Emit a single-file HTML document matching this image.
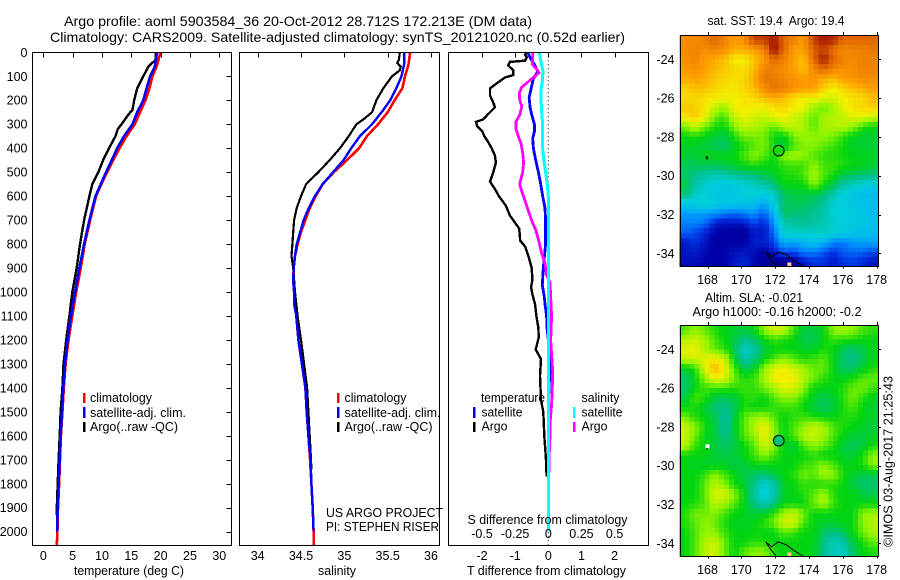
<!DOCTYPE html>
<html>
<head>
<meta charset="utf-8">
<title>Argo profile 5903584_36</title>
<style>
html,body{margin:0;padding:0;background:#fff;width:900px;height:580px;overflow:hidden}
svg{display:block;font-family:"Liberation Sans",sans-serif;font-size:12.5px;fill:#000}
text{fill:#000}
</style>
</head>
<body>
<svg id="chart" width="900" height="580" viewBox="0 0 900 580" xmlns="http://www.w3.org/2000/svg">
  <rect width="900" height="580" fill="#fff"/>
  <g id="maps"></g>
  <g id="plots"></g>
  <g id="axes"></g>

  <text x="64" y="26" font-size="14" textLength="468" lengthAdjust="spacingAndGlyphs">Argo profile: aoml 5903584_36 20-Oct-2012 28.712S 172.213E (DM data)</text>
  <text x="50" y="42" font-size="14" textLength="575" lengthAdjust="spacingAndGlyphs">Climatology: CARS2009. Satellite-adjusted climatology: synTS_20121020.nc (0.52d earlier)</text>

  <text x="74" y="575" textLength="110" lengthAdjust="spacingAndGlyphs">temperature (deg C)</text>
  <text x="318" y="575" textLength="38" lengthAdjust="spacingAndGlyphs">salinity</text>
  <text x="467.5" y="524" textLength="160" lengthAdjust="spacingAndGlyphs">S difference from climatology</text>
  <text x="467" y="575" textLength="159" lengthAdjust="spacingAndGlyphs">T difference from climatology</text>

  <g>
    <rect x="83" y="393" width="2.5" height="10" fill="#f00"/>
    <rect x="83" y="407" width="2.5" height="11" fill="#00f"/>
    <rect x="83" y="422" width="2.5" height="10" fill="#000"/>
    <text x="90" y="402" textLength="62" lengthAdjust="spacingAndGlyphs">climatology</text>
    <text x="90" y="417" textLength="96" lengthAdjust="spacingAndGlyphs">satellite-adj. clim.</text>
    <text x="90" y="431" textLength="88" lengthAdjust="spacingAndGlyphs">Argo(..raw -QC)</text>
  </g>
  <g>
    <rect x="337" y="393" width="2.5" height="10" fill="#f00"/>
    <rect x="337" y="407" width="2.5" height="11" fill="#00f"/>
    <rect x="337" y="422" width="2.5" height="10" fill="#000"/>
    <text x="344.5" y="402" textLength="62" lengthAdjust="spacingAndGlyphs">climatology</text>
    <text x="344.5" y="417" textLength="96" lengthAdjust="spacingAndGlyphs">satellite-adj. clim.</text>
    <text x="344.5" y="431" textLength="88" lengthAdjust="spacingAndGlyphs">Argo(..raw -QC)</text>
  </g>
  <text x="326" y="517" textLength="117" lengthAdjust="spacingAndGlyphs">US ARGO PROJECT</text>
  <text x="326" y="531" textLength="113" lengthAdjust="spacingAndGlyphs">PI: STEPHEN RISER</text>

  <g>
    <text x="481" y="402" textLength="64" lengthAdjust="spacingAndGlyphs">temperature</text>
    <rect x="473" y="407" width="2.5" height="11" fill="#00f"/>
    <text x="481.5" y="416.5" textLength="41" lengthAdjust="spacingAndGlyphs">satellite</text>
    <rect x="473" y="422" width="2.5" height="10" fill="#000"/>
    <text x="481.5" y="430.5" textLength="26" lengthAdjust="spacingAndGlyphs">Argo</text>
    <text x="581.5" y="402" textLength="38" lengthAdjust="spacingAndGlyphs">salinity</text>
    <rect x="573" y="407" width="2.5" height="11" fill="#0ff"/>
    <text x="581.5" y="416.5" textLength="41" lengthAdjust="spacingAndGlyphs">satellite</text>
    <rect x="573" y="422" width="2.5" height="10" fill="#f0f"/>
    <text x="581.5" y="430.5" textLength="26" lengthAdjust="spacingAndGlyphs">Argo</text>
  </g>

  <text x="707.5" y="25" textLength="137" lengthAdjust="spacingAndGlyphs">sat. SST: 19.4&#160; Argo: 19.4</text>
  <text x="705" y="302" textLength="98" lengthAdjust="spacingAndGlyphs">Altim. SLA: -0.021</text>
  <text x="692.5" y="316" textLength="169" lengthAdjust="spacingAndGlyphs">Argo h1000: -0.16 h2000: -0.2</text>
  <text transform="translate(892.5,547) rotate(-90)" font-size="13" textLength="171" lengthAdjust="spacingAndGlyphs">©IMOS 03-Aug-2017 21:25:43</text>
</svg>

<script>
/* ---------- temperature panel data ---------- */
const tempClimDepth = [0,60,100,150,200,250,300,350,400,450,500,550,600,700,800,900,1000,1100,1200,1300,1400,1500,1600,1700,1800,1900,2000,2057];
const tempClim = [20,19.3,18.6,18.1,17.4,16.5,15.6,14.2,13,11.9,10.9,9.9,9,8,7.05,6.4,5.6,4.95,4.3,3.8,3.5,3.25,3,2.85,2.7,2.5,2.4,2.3];
const tempSatDepth = [0,60,100,150,200,250,300,350,400,450,500,550,600,700,800,900,1000,1100,1200,1300,1400,1500,1600,1700,1800,1900,2000];
const tempSat = [19.4,19,18.2,17.6,17.05,16,15.2,13.75,12.6,11.65,10.7,9.8,8.9,7.85,6.95,6.15,5.4,4.7,4.15,3.7,3.4,3.2,2.95,2.8,2.6,2.45,2.35];
const tempArgoDepth = [0,35,45,60,100,150,200,240,260,300,320,350,400,450,500,550,600,700,800,900,1000,1100,1200,1300,1400,1500,1600,1700,1800,1900,1930];
const tempArgo = [19.2,19.1,18.5,17.9,17.05,16,15.5,15.2,14.5,13.35,12.7,12.3,11.2,10.2,9.4,8.35,7.85,6.95,6.25,5.7,4.95,4.45,3.9,3.45,3.25,2.95,2.8,2.6,2.45,2.3,2.3];

/* ---------- salinity panel data ---------- */
const salClimDepth = [0,50,100,150,200,250,300,350,400,450,500,550,600,650,700,750,800,850,900,950,1000,1100,1200,1300,1400,1500,1600,1700,1800,1900,2000,2057];
const salClim = [35.76,35.74,35.7,35.67,35.58,35.5,35.39,35.26,35.17,35.03,34.88,34.75,34.67,34.6,34.55,34.5,34.46,34.43,34.415,34.41,34.42,34.445,34.47,34.51,34.55,34.565,34.585,34.605,34.62,34.635,34.645,34.645];
const salSatDepth = [0,50,100,150,200,250,300,350,400,450,500,550,600,650,700,750,800,850,900,950,1000,1050,1100,1200,1300,1400,1500,1600,1700,1800,1900,2000];
const salSat = [35.69,35.69,35.66,35.6,35.53,35.43,35.32,35.18,35.08,34.99,34.87,34.75,34.66,34.59,34.53,34.49,34.45,34.43,34.415,34.41,34.42,34.42,34.445,34.47,34.51,34.55,34.565,34.585,34.61,34.62,34.635,34.645];
const salArgoDepth = [0,30,45,60,75,100,150,200,250,280,300,350,400,450,500,550,600,650,700,750,800,850,900,950,1000,1100,1200,1300,1400,1500,1600,1700,1740];
const salArgo = [35.64,35.63,35.61,35.65,35.64,35.55,35.45,35.37,35.32,35.22,35.14,35.05,34.95,34.83,34.7,34.56,34.5,34.45,34.42,34.41,34.4,34.39,34.41,34.42,34.43,34.46,34.5,34.535,34.57,34.585,34.6,34.615,34.62];

/* ---------- difference panel data ---------- */
const dTArgoDepth = [0,10,20,35,40,55,75,95,105,125,150,180,210,230,260,280,290,310,330,350,375,400,430,460,500,540,570,600,640,680,700,735,760,785,810,850,900,950,980,1010,1050,1100,1150,1190,1240,1280,1350,1450,1500,1600,1700,1770];
const dTArgo = [-0.65,-0.7,-0.65,-0.7,-1.16,-1.21,-1.06,-1.06,-1.31,-1.51,-1.76,-1.76,-1.66,-1.61,-1.83,-1.96,-2.18,-2.14,-1.99,-1.93,-1.81,-1.71,-1.61,-1.58,-1.66,-1.76,-1.61,-1.49,-1.28,-1.16,-1.06,-0.88,-0.86,-0.85,-0.7,-0.6,-0.5,-0.48,-0.52,-0.48,-0.4,-0.36,-0.3,-0.29,-0.38,-0.22,-0.25,-0.22,-0.15,-0.12,-0.07,-0.05];
const dTSatDepth = [0,30,50,80,110,140,170,190,230,260,300,330,360,400,450,500,550,600,650,700,800,900,970,1020,1050,1100,1150,1200,1270,1330,1400,1500,2000];
const dTSat = [-0.62,-0.52,-0.42,-0.32,-0.45,-0.5,-0.55,-0.58,-0.55,-0.5,-0.42,-0.42,-0.47,-0.45,-0.38,-0.3,-0.23,-0.17,-0.1,-0.08,-0.08,-0.15,-0.18,-0.12,-0.1,-0.05,-0.04,0,0.03,0.05,0.02,0,0];
const dSSatDepth = [0,40,80,120,160,200,250,300,350,400,450,500,550,600,700,800,900,1000,1100,2000];
const dSSat = [-0.068,-0.055,-0.04,-0.045,-0.055,-0.055,-0.05,-0.043,-0.043,-0.043,-0.033,-0.02,-0.008,0,0.003,0,0.003,0.003,0,0];
const dSArgoDepth = [0,30,50,70,85,105,125,145,170,200,225,260,290,320,350,380,420,460,500,550,580,620,660,710,740,790,840,880,930,960,1100,1200,1260,1330,1400,1470,1550,1600,1700,1750];
const dSArgo = [-0.118,-0.118,-0.12,-0.088,-0.07,-0.113,-0.156,-0.2,-0.219,-0.216,-0.2,-0.214,-0.244,-0.244,-0.226,-0.206,-0.193,-0.186,-0.193,-0.216,-0.2,-0.176,-0.151,-0.12,-0.095,-0.07,-0.05,-0.025,-0.013,0.013,0.025,0.018,0.025,0.033,0.03,0.025,0.013,0.013,0.005,0.005];

/* ---------- tick labels ---------- */
const depthTicks = [0,100,200,300,400,500,600,700,800,900,1000,1100,1200,1300,1400,1500,1600,1700,1800,1900,2000];
const tempTicks = [0,5,10,15,20,25,30];
const salTicks = [34,34.5,35,35.5,36];
const dTTicks = [-2,-1,0,1,2];
const dSTicks = [-0.5,-0.25,0,0.25,0.5];
const lonTicks = [168,170,172,174,176,178];
const latTicks = [-24,-26,-28,-30,-32,-34];

/* ---------- map grids (colour-scale units, rows north to south) ---------- */
const sstGrid = [
[10.3,10.3,10.5,11,10.5,10,10.2,11.5,11.5,12,11,10.5,10,11.5,12,11.8,11,11,11,11],
[10.3,10.5,10.3,10.5,10.3,9.8,9.8,10,10.5,12.3,11,10,10,11,11.5,10.8,10.3,10.5,10.5,10.7],
[10.2,10.5,10,9.8,9.6,9,9,9.5,10,11,10.5,10,9.5,11,12,11,10.5,10.3,10.5,10.5],
[10,10.2,10,9.7,9.5,9.3,9.2,9.6,10.5,10.5,10.3,10,9.5,10.3,11,10.5,10.2,10.3,10.5,10.5],
[9.8,10,9.8,9.5,9.3,9.2,9.3,9.8,10.7,10.6,10.4,10.2,10,10.2,9.8,9.6,10,10.2,10.3,10.3],
[9.3,9.6,9.6,9.3,9.2,9.1,9.3,9.6,10.3,10.8,10.6,10.2,10,10,9.4,9,9.3,9.6,9.8,10],
[9.2,9.3,9.2,9.1,9,9,9.1,9.3,9.6,9.8,9.6,9.2,9,9,8.8,8.7,9,9.2,9.3,9.6],
[9.5,9.4,9.2,8.5,8.1,9,9.1,9,8.9,9.2,9.3,9.1,8.9,8.2,7.7,8.2,8.8,9.2,9.3,9.4],
[9,9.5,9,7.8,7.4,8.5,8.9,8.6,8.5,8.9,9,8.6,8.3,7.6,8.2,8.3,8.5,8.8,8.9,8.5],
[7.8,8.6,7.8,7.2,7,7.9,8.5,8.3,8.1,7.6,8.3,8.5,8.3,7.6,8.2,8.3,8.4,8,7.3,7],
[7,7.2,7,6.7,6.5,7.2,7.8,7.8,7.8,7.1,6.8,7.8,8.1,8,8,7.8,7.3,6.9,6.7,6.7],
[6.8,6.8,6.6,6.4,6.2,6.8,7.2,7.6,7.9,7.1,6.6,7.5,7.9,7.9,7.7,7.4,7.1,6.8,6.7,6.7],
[6.7,6.7,7,7,7,7,7.5,8,7.6,7,8,8.2,8,7.6,7.3,7.2,7.1,7,6.9,6.8],
[6.5,6.4,6.5,6.4,6.6,6.8,7,7.2,7,7,7.3,7.4,7.4,8,7.5,7.4,7.2,7,6.9,6.7],
[6.3,6,5.7,5.5,5.6,5.8,6,6.2,6.5,6.8,7.2,7.2,7.5,8.2,7.6,7.1,6.6,6.4,6.2,6.1],
[6.7,5.7,5.2,4.8,4.6,4.8,5,5.3,5.6,6.2,7,7,7,8,7.2,6.5,5.7,5.4,5.1,4.9],
[6.3,5.3,4.9,4.7,4.7,4.6,5,5,4.8,5.3,6.3,6.6,6.6,6.5,6.3,5.5,4.9,4.6,4.2,4.2],
[4.5,4.6,5.2,4.8,4.5,4.5,4.3,4.3,3.5,5,6.2,6.5,6.4,6.2,5.8,5,4.8,4.7,4.5,4.3],
[3.5,3.6,3.5,3.3,3,2.7,3,3.3,2.5,4,6.4,6.2,6.1,5.9,5.6,5,5,4.7,4.5,4.3],
[3,3,2.8,1.7,1.3,1.4,1.5,2.3,1.8,3.3,5.5,5.7,6,5.7,5.5,5.1,4.9,4.7,4.6,4.5],
[2.6,2.4,1.8,1,1,0.8,0.6,1.5,1.4,2.8,5,5.2,5.2,5.2,5.3,5,4.7,4.5,4.2,4.2],
[1.5,2,1.5,0.9,0.9,1,1,1.7,1.7,2.2,3.8,3.5,4,4.3,4,3,2.9,3.4,3.6,3.6],
[1.4,1.6,1.2,0.9,1.1,1.3,1.5,1.3,0.9,1.5,2.5,2.3,3,3,2.5,2,2.6,2.7,2.6,2.3],
[1.3,1.3,1.1,1,1,1.5,1.8,1.2,0.7,0.5,0.5,0.6,1.5,2,2,1.5,2,2.2,1.8,1.4]
];
const slaGrid = [
[7.5,8,7.7,7.2,7,6.8,6.6,7,8,8.7,8.5,7.5,6.6,6.6,7,8,8.2,8,7.5,7.3],
[8.3,8.6,8.2,7.5,7,6.6,6,6.3,7,7.4,7.2,7,6.5,6.5,7,7.4,7.3,7.2,7,7],
[8.8,9,8.3,7.7,7.4,6.6,5.2,5.6,6.6,7,7,7,6.8,6.8,7.2,7,6.4,6.2,6.6,7],
[8.5,8.6,8.8,9.1,8.6,7,5.5,6,7,7.5,8,7.6,7.2,7.4,7.6,7,6.2,6,6.5,7],
[6.8,7.2,8.6,9.8,9,7.6,6.4,6.8,8,8.8,9,8.6,8.2,7.7,7.7,7,6.3,6.3,6.8,7.2],
[6.2,6.9,8,9,8.8,7.8,7.2,7.4,8.2,9,9.1,9,8.3,7.8,7.3,7,6.9,7.2,7.6,7.7],
[6.2,7,7.4,7.4,7.4,7.3,7.4,7.3,7.8,8.2,8.8,8.7,8,7,7,7,7.2,7.7,7.8,7.4],
[6.5,7.5,7.3,6.6,6.5,6.6,7.2,7.3,7,7.6,8,8,7.4,6.8,6.5,6.7,7.3,7.8,7.3,6.8],
[7,7.2,6.7,6.2,6,6.4,7.2,7,7,7.3,7.4,7.4,7,6.6,6.3,6.6,7.2,7.5,7,6.7],
[7.8,7.2,7,6.5,5.8,6.5,7.6,8,8.2,7.5,7,7.3,7.4,7.2,7,7,7.2,7.2,7,6.8],
[8.6,8,7.2,6.7,5.8,6.7,7.6,8.3,9,8,7,7.5,8,8.5,8.2,7.5,7.2,7,6.8,6.6],
[8.6,7.8,7,6.7,6,6.6,7.6,8,9,8,7,7.5,8.3,8.6,8.2,7.5,7,6.7,6.7,6.8],
[8.5,7.4,7,6.7,6.3,6.6,7,7.6,8.6,8,7,6.6,7.5,8,7.7,7.2,6.6,6.4,6.6,7.2],
[7,7,7,6.7,6.6,6.6,7,7.4,8,7.4,7,7,7,7.3,7,7,6.8,6.7,7.2,8],
[7,6.8,6.8,6.8,6.8,6.6,6.6,7,7,7,7,7,7.4,7.5,8,7.5,7,7,7.2,8],
[7,7,7.3,8,7.5,7,6.6,6.3,6.2,6.6,7,7.2,7.8,7.6,8.2,8,7.2,6.8,6.5,6.5],
[7,7,7.6,8.4,8,7.1,6.8,6,5,5.6,6.8,7,7.4,7.2,7.2,7.3,7,6.6,6.2,6.2],
[7,7,7.6,8.7,8.7,8,7,5.8,4.8,5.5,6.8,7,7.2,7.6,8.2,7.2,7,7,6.6,6.5],
[7,7.2,7.5,8.4,8.2,7.6,7,6,5.5,6,7,7,7,7.7,8.3,7.4,7,7,7,7],
[7.2,7.8,7.8,7.9,7.5,7,6.9,6.7,6.8,7.4,8.2,8.6,7.8,7,7,7,7,7,8,8.2],
[7.2,7.6,8,7.8,7.2,6.9,6.8,7,7.3,7.8,8.6,8.7,7.5,7,6.8,6.8,7,7,8,8.4],
[7,7.5,8,8,7.4,7,7,7,7,7,7.6,7.4,7,7,6.4,6,6.4,7,7.8,8.2],
[7,7.5,8.3,8.6,7.8,7,7,7.3,7.2,7,7,7,7,7,6,5.4,5.6,6.6,7.2,7.7],
[7,7.5,8.3,8.7,7.8,7,7.6,8,8,7.2,7,7,7,6.9,6,5.4,5.2,6.3,7,7.2]
];
/* colour scale: index = value in scale units */
const colourStops = ["#000070","#0000a8","#0030e0","#0080ff","#00b8f0","#00d0d8","#00c08c","#00d410","#90f400","#f4f000","#ff9c00","#e06800","#a81800"];
const argoLon = [172.213];
const argoLat = [-28.712];
const coastLon = [171.44,171.79,172.18,172.68,173.07,173.63];
const coastLat = [-33.92,-34.18,-33.92,-34.09,-34.35,-34.65];
const coastWestLon = [171.44,171.69,172.05];
const coastWestLat = [-33.92,-34.26,-34.65];
const norfolkLon = [167.9];
const norfolkLat = [-29.05];

/* ---------- axis functions ---------- */
const NS = "http://www.w3.org/2000/svg";
const yDepth = d => 52.3 + 0.2397 * d;
const xTemp = v => 43.3 + 5.867 * v;
const xSal = v => 257.7 + 86.65 * (v - 34);
const xDT = v => 548.3 + 33.15 * v;
const xDS = v => 548.3 + 132.6 * v;
const mapX = lon => 707.5 + 16.92 * (lon - 168);
const mapYTop = lat => 59.3 - 19.4 * (lat + 24);
const mapYBot = lat => 349.3 - 19.4 * (lat + 24);
const lonMin = 166.35, lonMax = 178.07, latMax = -22.76, latMin = -34.69;

function mk(parent, tag, attrs, txt) {
  const el = document.createElementNS(NS, tag);
  for (const k in attrs) el.setAttribute(k, attrs[k]);
  if (txt !== undefined) el.textContent = txt;
  parent.appendChild(el);
  return el;
}
const plots = document.getElementById("plots");
const axes = document.getElementById("axes");
const maps = document.getElementById("maps");

function drawLine(xs, ds, sx, colour, width, name) {
  const pts = xs.map((v, i) => sx(v).toFixed(1) + "," + yDepth(ds[i]).toFixed(1)).join(" ");
  const el = mk(plots, "polyline", {points: pts, fill: "none", stroke: colour, "stroke-width": width, "shape-rendering": "crispEdges"});
  
  
}

drawLine(tempClim, tempClimDepth, xTemp, "#f00", 2.6, "temperature-climatology-line");
drawLine(tempArgo, tempArgoDepth, xTemp, "#000", 2.4, "temperature-argo-line");
drawLine(tempSat, tempSatDepth, xTemp, "#00f", 2.6, "temperature-satellite-line");

drawLine(salClim, salClimDepth, xSal, "#f00", 2.6, "salinity-climatology-line");
drawLine(salArgo, salArgoDepth, xSal, "#000", 2.2, "salinity-argo-line");
drawLine(salSat, salSatDepth, xSal, "#00f", 2.4, "salinity-satellite-line");

const zeroLine = mk(plots, "line", {x1: xDT(0), x2: xDT(0), y1: yDepth(0), y2: yDepth(2057), stroke: "#000", "stroke-dasharray": "1 3"});


drawLine(dTArgo, dTArgoDepth, xDT, "#000", 2.4, "t-difference-argo-line");
drawLine(dTSat, dTSatDepth, xDT, "#00f", 2.8, "t-difference-satellite-line");
drawLine(dSArgo, dSArgoDepth, xDS, "#f0f", 2.8, "s-difference-argo-line");
drawLine(dSSat, dSSatDepth, xDS, "#0ff", 3, "s-difference-satellite-line");

/* ---------- profile panels ---------- */
function frame(x, w, name) {
  const el = mk(axes, "rect", {x: x, y: 52.5, width: w, height: 493, fill: "none", stroke: "#000", "stroke-width": 1, "shape-rendering": "crispEdges"});
  
  
}
frame(32.5, 199, "temperature-panel-frame");
frame(239.5, 200, "salinity-panel-frame");
frame(448.5, 200, "difference-panel-frame");

function xTicks(ticks, sx, labelY, name, withMark) {
  ticks.forEach(t => {
    const x = Math.round(sx(t)) + 0.5;
    if (withMark) {
      const m = mk(axes, "line", {x1: x, x2: x, y1: 52.5, y2: 57.5, stroke: "#000", "shape-rendering": "crispEdges"});
      
      
    }
    const l = mk(axes, "text", {x: sx(t), y: labelY, "text-anchor": "middle"}, String(t));
    
    
  });
}
xTicks(tempTicks, xTemp, 560, "temperature-axis", true);
xTicks(salTicks, xSal, 560, "salinity-axis", true);
xTicks(dTTicks, xDT, 560, "t-difference-axis", true);
xTicks(dSTicks, xDS, 538, "s-difference-axis", false);

depthTicks.forEach(d => {
  const y = Math.round(yDepth(d)) + 0.5;
  const m = mk(axes, "line", {x1: 226.5, x2: 231.5, y1: y, y2: y, stroke: "#000", "shape-rendering": "crispEdges"});
  
  
  const l = mk(axes, "text", {x: 27.5, y: yDepth(d) + 4.5, "text-anchor": "end"}, String(d));
  
  
});

/* ---------- maps ---------- */
function colourFor(v) {
  const c = Math.max(0, Math.min(colourStops.length - 1, v));
  const i = Math.min(colourStops.length - 2, Math.floor(c));
  const f = c - i;
  const hex = s => [1, 3, 5].map(p => parseInt(s.substr(p, 2), 16));
  const a = hex(colourStops[i]), b = hex(colourStops[i + 1]);
  return "rgb(" + a.map((q, n) => Math.round(q + (b[n] - q) * f)).join(",") + ")";
}

/* colour at fractional grid position: blends the four neighbouring cells for display */
function sampleGrid(grid, rf, cf) {
  const rows = grid.length, cols = grid[0].length;
  const r = Math.max(0, Math.min(rows - 1, rf)), c = Math.max(0, Math.min(cols - 1, cf));
  const r0 = Math.floor(r), c0 = Math.floor(c);
  const r1 = Math.min(rows - 1, r0 + 1), c1 = Math.min(cols - 1, c0 + 1);
  const fr = r - r0, fc = c - c0;
  return (grid[r0][c0] * (1 - fc) + grid[r0][c1] * fc) * (1 - fr) + (grid[r1][c0] * (1 - fc) + grid[r1][c1] * fc) * fr;
}

function drawMap(grid, my, name, yLabelShift, xLabelY, circleValue) {
  const group = mk(maps, "g", {});
  
  
  const SUB = 2;
  const rows = grid.length * SUB, cols = grid[0].length * SUB;
  const dLon = (lonMax - lonMin) / cols, dLat = (latMax - latMin) / rows;
  const left = mapX(lonMin), right = mapX(lonMax), top = my(latMax), bottom = my(latMin);
  for (let r = 0; r < rows; r++) {
    for (let c = 0; c < cols; c++) {
      const v = sampleGrid(grid, (r + 0.5) / SUB - 0.5, (c + 0.5) / SUB - 0.5);
      const x0 = mapX(lonMin + c * dLon), x1 = mapX(lonMin + (c + 1) * dLon);
      const y0 = my(latMax - r * dLat), y1 = my(latMax - (r + 1) * dLat);
      const cell = mk(group, "rect", {x: x0.toFixed(2), y: y0.toFixed(2), width: (x1 - x0 + 0.4).toFixed(2), height: (y1 - y0 + 0.4).toFixed(2), fill: colourFor(v), "shape-rendering": "crispEdges"});
      
      
    }
  }

  const coast1 = coastLon.map((lo, i) => mapX(lo).toFixed(1) + "," + my(coastLat[i]).toFixed(1)).join(" ");
  const coast2 = coastWestLon.map((lo, i) => mapX(lo).toFixed(1) + "," + my(coastWestLat[i]).toFixed(1)).join(" ");
  const c1 = mk(group, "polyline", {points: coast1, fill: "none", stroke: "#000", "stroke-width": 1, "shape-rendering": "crispEdges"});
  
  
  const c2 = mk(group, "polyline", {points: coast2, fill: "none", stroke: "#000", "stroke-width": 1, "shape-rendering": "crispEdges"});
  
  

  const land = mk(group, "rect", {x: mapX(172.72), y: my(-34.47), width: 4, height: 4, fill: "#ffc890"});
  
  
  const isl = mk(group, "rect", {x: mapX(norfolkLon[0]), y: my(norfolkLat[0]) - 1, width: 2, height: 3, fill: "#000"});
  
  

  const box = mk(group, "rect", {x: Math.round(left) + 0.5, y: Math.round(top) + 0.5, width: Math.round(right - left), height: Math.round(bottom - top), fill: "none", stroke: "#000", "shape-rendering": "crispEdges"});
  
  

  const rowF = (latMax - argoLat[0]) / (latMax - latMin) * grid.length - 0.5;
  const colF = (argoLon[0] - lonMin) / (lonMax - lonMin) * grid[0].length - 0.5;
  const marker = mk(group, "circle", {cx: mapX(argoLon[0]), cy: my(argoLat[0]), r: 5.3, fill: colourFor(circleValue === null ? sampleGrid(grid, rowF, colF) : circleValue), stroke: "#000", "stroke-width": 1});
  
  

  lonTicks.forEach(lo => {
    const x = Math.round(mapX(lo)) + 0.5;
    const tk = mk(group, "line", {x1: x, x2: x, y1: top - 3, y2: top, stroke: "#000", "shape-rendering": "crispEdges"});
    
    
    const tb = mk(group, "line", {x1: x, x2: x, y1: bottom, y2: bottom + 2, stroke: "#000", "shape-rendering": "crispEdges"});
    
    
    const l = mk(group, "text", {x: mapX(lo), y: xLabelY, "text-anchor": "middle"}, String(lo));
    
    
  });
  latTicks.forEach(la => {
    const y = Math.round(my(la)) + 0.5;
    const tk = mk(group, "line", {x1: right, x2: right + 3, y1: y, y2: y, stroke: "#000", "shape-rendering": "crispEdges"});
    
    
    const l = mk(group, "text", {x: 674.5, y: my(la) + yLabelShift, "text-anchor": "end"}, String(la));
    
    
  });
}
drawMap(sstGrid, mapYTop, "sst-map", 4.5, 284, null);
drawMap(slaGrid, mapYBot, "sla-map", 4.5, 574, 6.2);

const white = mk(maps, "rect", {x: mapX(168) - 2, y: mapYBot(-29.05) - 3, width: 4, height: 4, fill: "#fff"});


</script>
</body>
</html>
